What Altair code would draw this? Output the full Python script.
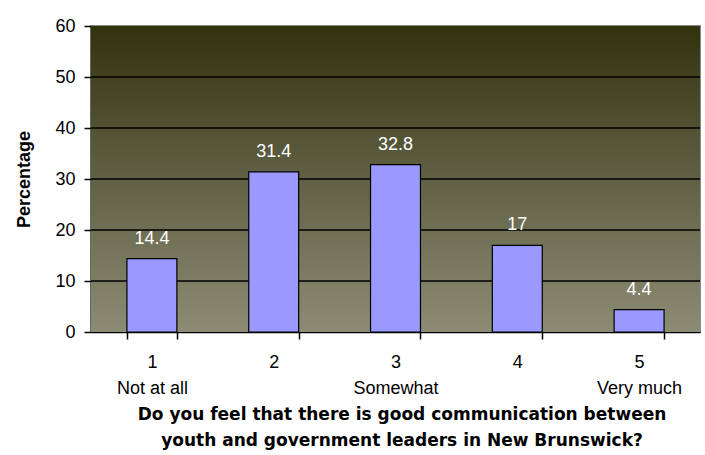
import altair as alt
import pandas as pd

# Survey responses: share of respondents per rating
ratings = ["1", "2", "3", "4", "5"]
rating_words = ["Not at all", "", "Somewhat", "", "Very much"]
percentages = [14.4, 31.4, 32.8, 17, 4.4]
grid_values = [10, 20, 30, 40, 50]

W, H = 609, 306
FONT = "Liberation Sans"
TITLE_FONT = "DejaVu Sans"

df = pd.DataFrame({"rating": ratings, "pct": percentages})
grid_df = pd.DataFrame({"g": grid_values})

# Two-line tick labels: number on top, descriptive word beneath
label_expr = " : ".join(
    f"datum.value == '{r}' ? ['{r}', '{w}']" for r, w in zip(ratings, rating_words)
) + " : datum.label"

x_enc = alt.X(
    "rating:N",
    sort=ratings,
    scale=alt.Scale(paddingInner=0.59, paddingOuter=0.295),
    axis=alt.Axis(
        title=["Do you feel that there is good communication between",
               "youth and government leaders in New Brunswick?"],
        titleFont=TITLE_FONT, titleFontSize=17, titleFontWeight="bold",
        titleColor="black", titlePadding=9, titleLineHeight=26,
        titleX=W / 2 + 6, titleAlign="center",
        labelExpr=label_expr, labelFont=FONT, labelFontSize=18,
        labelColor="black", labelLineHeight=26, labelPadding=14,
        labelAngle=0, tickBand="extent", tickColor="black", tickSize=7,
        tickWidth=1.5, domainColor="black", domainWidth=1.5,
    ),
)
y_scale = alt.Scale(domain=[0, 60], nice=False)

background = alt.Chart(df).mark_rect(
    fill=alt.Gradient(
        gradient="linear",
        stops=[
            alt.GradientStop(color="#32320e", offset=0),
            alt.GradientStop(color="#5c5c40", offset=0.45),
            alt.GradientStop(color="#8c8c74", offset=1),
        ],
        x1=0, x2=0, y1=0, y2=1,
    )
).encode(x=alt.value(0), x2=alt.value(W), y=alt.value(0), y2=alt.value(H))

grid = alt.Chart(grid_df).mark_rule(color="black", strokeWidth=1.5).encode(
    y=alt.Y("g:Q", scale=y_scale)
)

bars = alt.Chart(df).mark_bar(
    color="#9999ff", stroke="black", strokeWidth=1.2
).encode(
    x=x_enc,
    y=alt.Y(
        "pct:Q",
        scale=y_scale,
        axis=alt.Axis(
            title="Percentage", titleFont=FONT, titleFontSize=18,
            titleFontWeight="bold", titleColor="black", titlePadding=21,
            values=[0, 10, 20, 30, 40, 50, 60], grid=False,
            labelFont=FONT, labelFontSize=18, labelColor="black",
            labelPadding=9, tickColor="black", tickSize=7, tickWidth=1.5,
            domainColor="black", domainWidth=1.5,
        ),
    ),
)

labels = alt.Chart(df).mark_text(
    font=FONT, fontSize=18, color="white", baseline="alphabetic", dy=-15
).encode(x=alt.X("rating:N", sort=ratings), y=alt.Y("pct:Q", scale=y_scale),
         text=alt.Text("pct:Q"))

chart = alt.layer(background, grid, bars, labels).properties(
    width=W, height=H,
    autosize=alt.AutoSizeParams(type="none"),
    padding={"left": 91, "top": 26, "right": 5, "bottom": 123},
    background="white",
).configure_view(stroke="#8a8a8a", strokeWidth=2)

chart.save("out.html", embed_options={"renderer": "svg", "actions": False})
